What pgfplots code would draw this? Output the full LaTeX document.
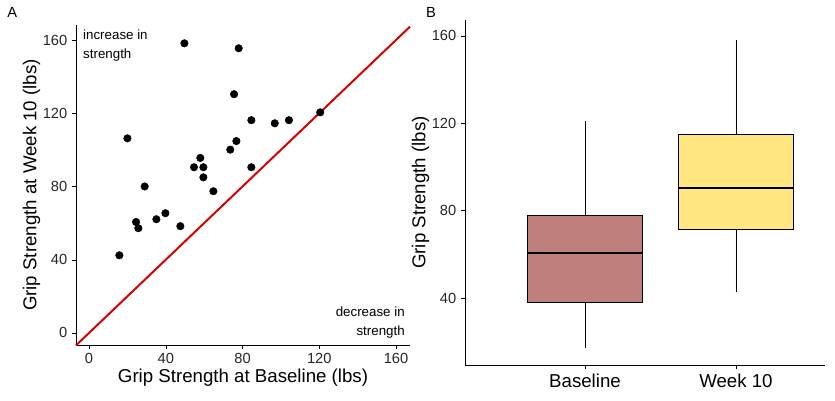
\documentclass[border=0pt]{standalone}
\usepackage{pgfplots}
\pgfplotsset{compat=1.18}
\usepgfplotslibrary{statistics}
\usepackage{fontspec}
\setmainfont{Liberation Sans}
\definecolor{basec}{HTML}{BF7F7C}
\definecolor{weekc}{HTML}{FFE680}
\begin{document}
\begin{tikzpicture}
\path[use as bounding box] (0,0) rectangle (626.25pt,300pt);
\node[anchor=north west,font=\fontsize{11}{13}\selectfont] at (2pt,298pt) {A};
\node[anchor=north west,font=\fontsize{11}{13}\selectfont] at (316pt,298pt) {B};
\begin{axis}[at={(57pt,41.25pt)},anchor=south west,scale only axis,
  width=250.5pt,height=240pt,
  xmin=-6.8,xmax=167.3,ymin=-6.6,ymax=168.2,
  axis lines=left, axis line style={-,black},
  tick align=outside, xtick={0,40,...,160}, ytick={0,40,...,160},
  tick style={black}, major tick length=3pt,
  /pgf/number format/assume math mode=true,
  ticklabel style={font=\fontsize{11}{13}\selectfont,text=black!85},
  xlabel={Grip Strength at Baseline (lbs)}, ylabel={Grip Strength at Week 10 (lbs)},
  label style={font=\fontsize{14}{16}\selectfont},
  xlabel shift=-3pt, ylabel shift=-5pt,
  clip=false]
\addplot[red!85!black, line width=1.5pt] coordinates {(-6.8,-6.8) (167.3,167.3)};
\addplot[only marks, mark=*, mark size=2.8pt, black] coordinates {
(15.8,42.4) (20,106.3) (24.5,60.6) (25.7,57.2) (29,80) (35.1,62.1) (39.8,65.4)
(47.6,58.3) (49.7,158.2) (54.7,90.5) (58,95.6) (59.6,90.5) (59.6,85) (64.8,77.4)
(73.6,100.1) (75.6,130.4) (76.8,104.8) (78,155.5) (84.6,116.2) (84.6,90.5)
(96.8,114.5) (104.2,116.2) (120.5,120.5)};
\node[anchor=north west,align=left,font=\fontsize{10}{14}\selectfont] at (axis cs:-5.5,168) {increase in\\strength};
\node[anchor=south east,align=right,font=\fontsize{10}{14}\selectfont] at (axis cs:167,-5.5) {decrease in\\strength};
\end{axis}
\begin{axis}[at={(348.75pt,26.25pt)},anchor=south west,scale only axis,
  width=270pt,height=258.75pt,
  xmin=0.205,xmax=2.59,ymin=9.3,ymax=167.3,
  axis lines=left, axis line style={-,black},
  tick align=outside, xtick={1,2}, xticklabels={Baseline,Week 10}, ytick={40,80,...,160},
  tick style={black}, major tick length=3pt,
  /pgf/number format/assume math mode=true,
  yticklabel style={font=\fontsize{11}{13}\selectfont,text=black!85},
  xticklabel style={font=\fontsize{14}{16}\selectfont},
  ylabel={Grip Strength (lbs)},
  label style={font=\fontsize{14}{16}\selectfont}, ylabel shift=-5pt,
  boxplot/draw direction=y, boxplot/box extend=0.76, boxplot/whisker extend=0]
\addplot[fill=basec, draw=black, thin, boxplot prepared={draw position=1,
  lower whisker=17.1, lower quartile=38.2, median=60.6, upper quartile=78, upper whisker=121.1},
  boxplot/every median/.style={line width=1.2pt}] coordinates {};
\addplot[fill=weekc, draw=black, thin, boxplot prepared={draw position=2,
  lower whisker=42.7, lower quartile=71.6, median=90.4, upper quartile=115.1, upper whisker=158.2},
  boxplot/every median/.style={line width=1.2pt}] coordinates {};
\end{axis}
\end{tikzpicture}
\end{document}
